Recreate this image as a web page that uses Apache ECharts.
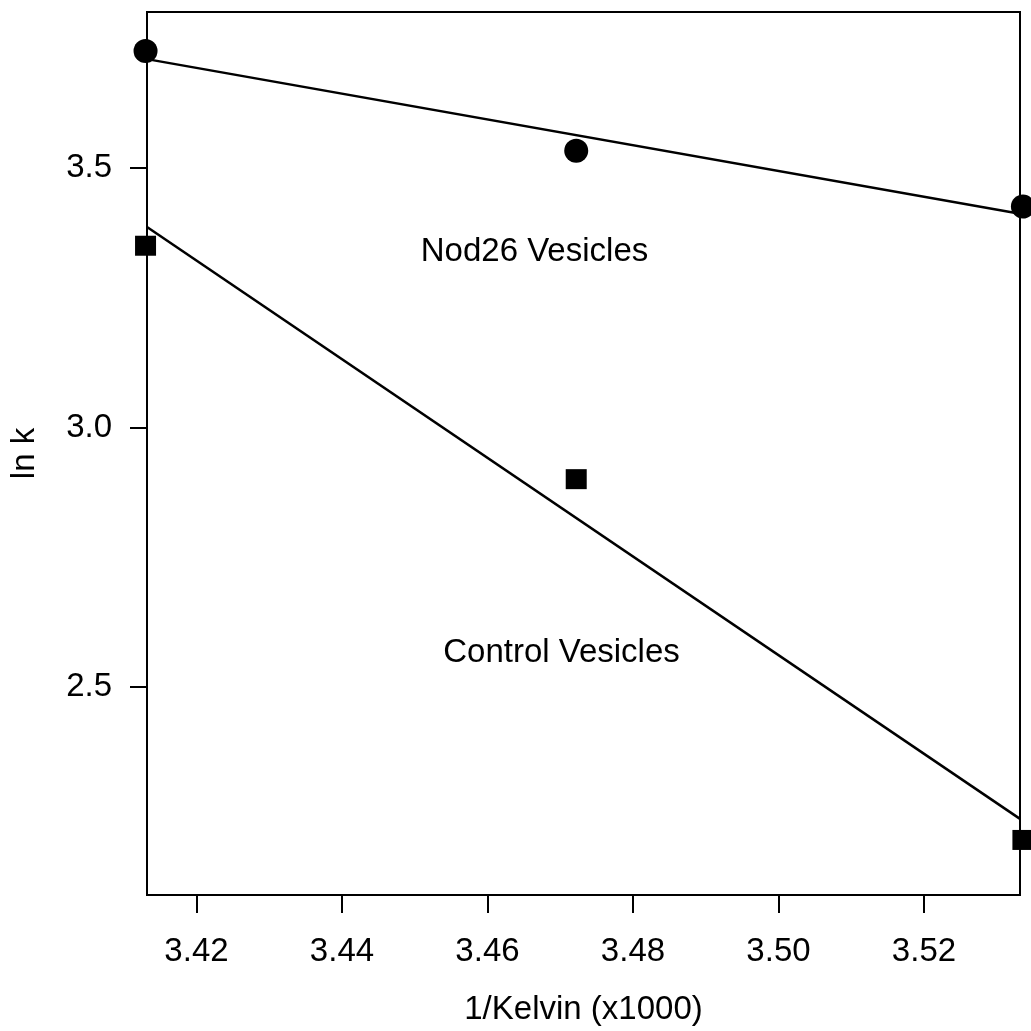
<!DOCTYPE html>
<html>
<head>
<meta charset="utf-8">
<script src="https://cdn.jsdelivr.net/npm/echarts@6/dist/echarts.min.js"></script>
<style>
  html, body { margin: 0; padding: 0; background: #fff; }
  #chart { width: 1031px; height: 1031px; }
</style>
</head>
<body>
<div id="chart"></div>
<script>
// Inverse temperature (1/K x 1000) for the three measurement temperatures
const invKelvin = [3.4130, 3.4722, 3.5336];
// ln k for Nod26-containing vesicles (circles)
const nod26LnK = [3.725, 3.533, 3.4255];
// ln k for control vesicles (squares)
const controlLnK = [3.350, 2.9006, 2.206];
// Axis tick values
const xTicks = [3.42, 3.44, 3.46, 3.48, 3.50, 3.52];
const yTicks = [2.5, 3.0, 3.5];
const xRange = [3.4132, 3.5332];
const yRange = [2.1, 3.8];

// Least-squares straight line through a series, evaluated at the axis ends
function fitLine(xs, ys, x0, x1) {
  const n = xs.length;
  const mx = xs.reduce((a, b) => a + b, 0) / n;
  const my = ys.reduce((a, b) => a + b, 0) / n;
  let sxy = 0, sxx = 0;
  for (let i = 0; i < n; i++) {
    sxy += (xs[i] - mx) * (ys[i] - my);
    sxx += (xs[i] - mx) * (xs[i] - mx);
  }
  const slope = sxy / sxx;
  return [[x0, my + slope * (x0 - mx)], [x1, my + slope * (x1 - mx)]];
}

const pairs = (xs, ys) => xs.map((x, i) => [x, ys[i]]);
const FONT = 'Liberation Sans, Arial, sans-serif';

const chart = echarts.init(document.getElementById('chart'));
chart.setOption({
  backgroundColor: '#ffffff',
  animation: false,
  grid: {
    left: 145.5, right: 11, top: 12, bottom: 136,
    show: true, borderColor: '#000', borderWidth: 2, backgroundColor: 'transparent'
  },
  xAxis: {
    type: 'value',
    min: xRange[0], max: xRange[1],
    name: '1/Kelvin (x1000)',
    nameLocation: 'middle',
    nameGap: 98,
    nameTextStyle: { fontFamily: FONT, fontSize: 33, color: '#000' },
    axisLine: { lineStyle: { color: '#000', width: 2 } },
    axisTick: { show: true, inside: false, length: 18, customValues: xTicks, lineStyle: { color: '#000', width: 2 } },
    axisLabel: {
      customValues: xTicks, margin: 40,
      fontFamily: FONT, fontSize: 33, color: '#000',
      formatter: v => v.toFixed(2)
    },
    splitLine: { show: false }
  },
  yAxis: {
    type: 'value',
    min: yRange[0], max: yRange[1],
    name: 'ln k',
    nameLocation: 'middle',
    nameRotate: 90,
    nameGap: 106,
    nameTextStyle: { fontFamily: FONT, fontSize: 33, color: '#000' },
    axisLine: { lineStyle: { color: '#000', width: 2 } },
    axisTick: { show: true, inside: false, length: 17, customValues: yTicks, lineStyle: { color: '#000', width: 2 } },
    axisLabel: {
      customValues: yTicks, margin: 35,
      fontFamily: FONT, fontSize: 33, color: '#000',
      formatter: v => v.toFixed(1)
    },
    splitLine: { show: false }
  },
  series: [
    {
      name: 'Nod26 fit', type: 'line', symbol: 'none', silent: true,
      data: fitLine(invKelvin, nod26LnK, xRange[0], xRange[1]),
      lineStyle: { color: '#000', width: 2.5 }, z: 2
    },
    {
      name: 'Control fit', type: 'line', symbol: 'none', silent: true,
      data: fitLine(invKelvin, controlLnK, xRange[0], xRange[1]),
      lineStyle: { color: '#000', width: 2.5 }, z: 2
    },
    {
      name: 'Nod26 Vesicles', type: 'scatter', symbol: 'circle', symbolSize: 24,
      data: pairs(invKelvin, nod26LnK), clip: false,
      itemStyle: { color: '#000', opacity: 1 }, z: 3
    },
    {
      name: 'Control Vesicles', type: 'scatter', symbol: 'rect', symbolSize: [21, 20],
      data: pairs(invKelvin, controlLnK), clip: false,
      itemStyle: { color: '#000', opacity: 1 }, z: 3
    }
  ],
  graphic: [
    {
      type: 'text', x: 534.5, y: 252, z: 10,
      style: { text: 'Nod26 Vesicles', fontFamily: FONT, fontSize: 33, fill: '#000', align: 'center', verticalAlign: 'middle' }
    },
    {
      type: 'text', x: 561.5, y: 653, z: 10,
      style: { text: 'Control Vesicles', fontFamily: FONT, fontSize: 33, fill: '#000', align: 'center', verticalAlign: 'middle' }
    }
  ]
});
</script>
</body>
</html>
